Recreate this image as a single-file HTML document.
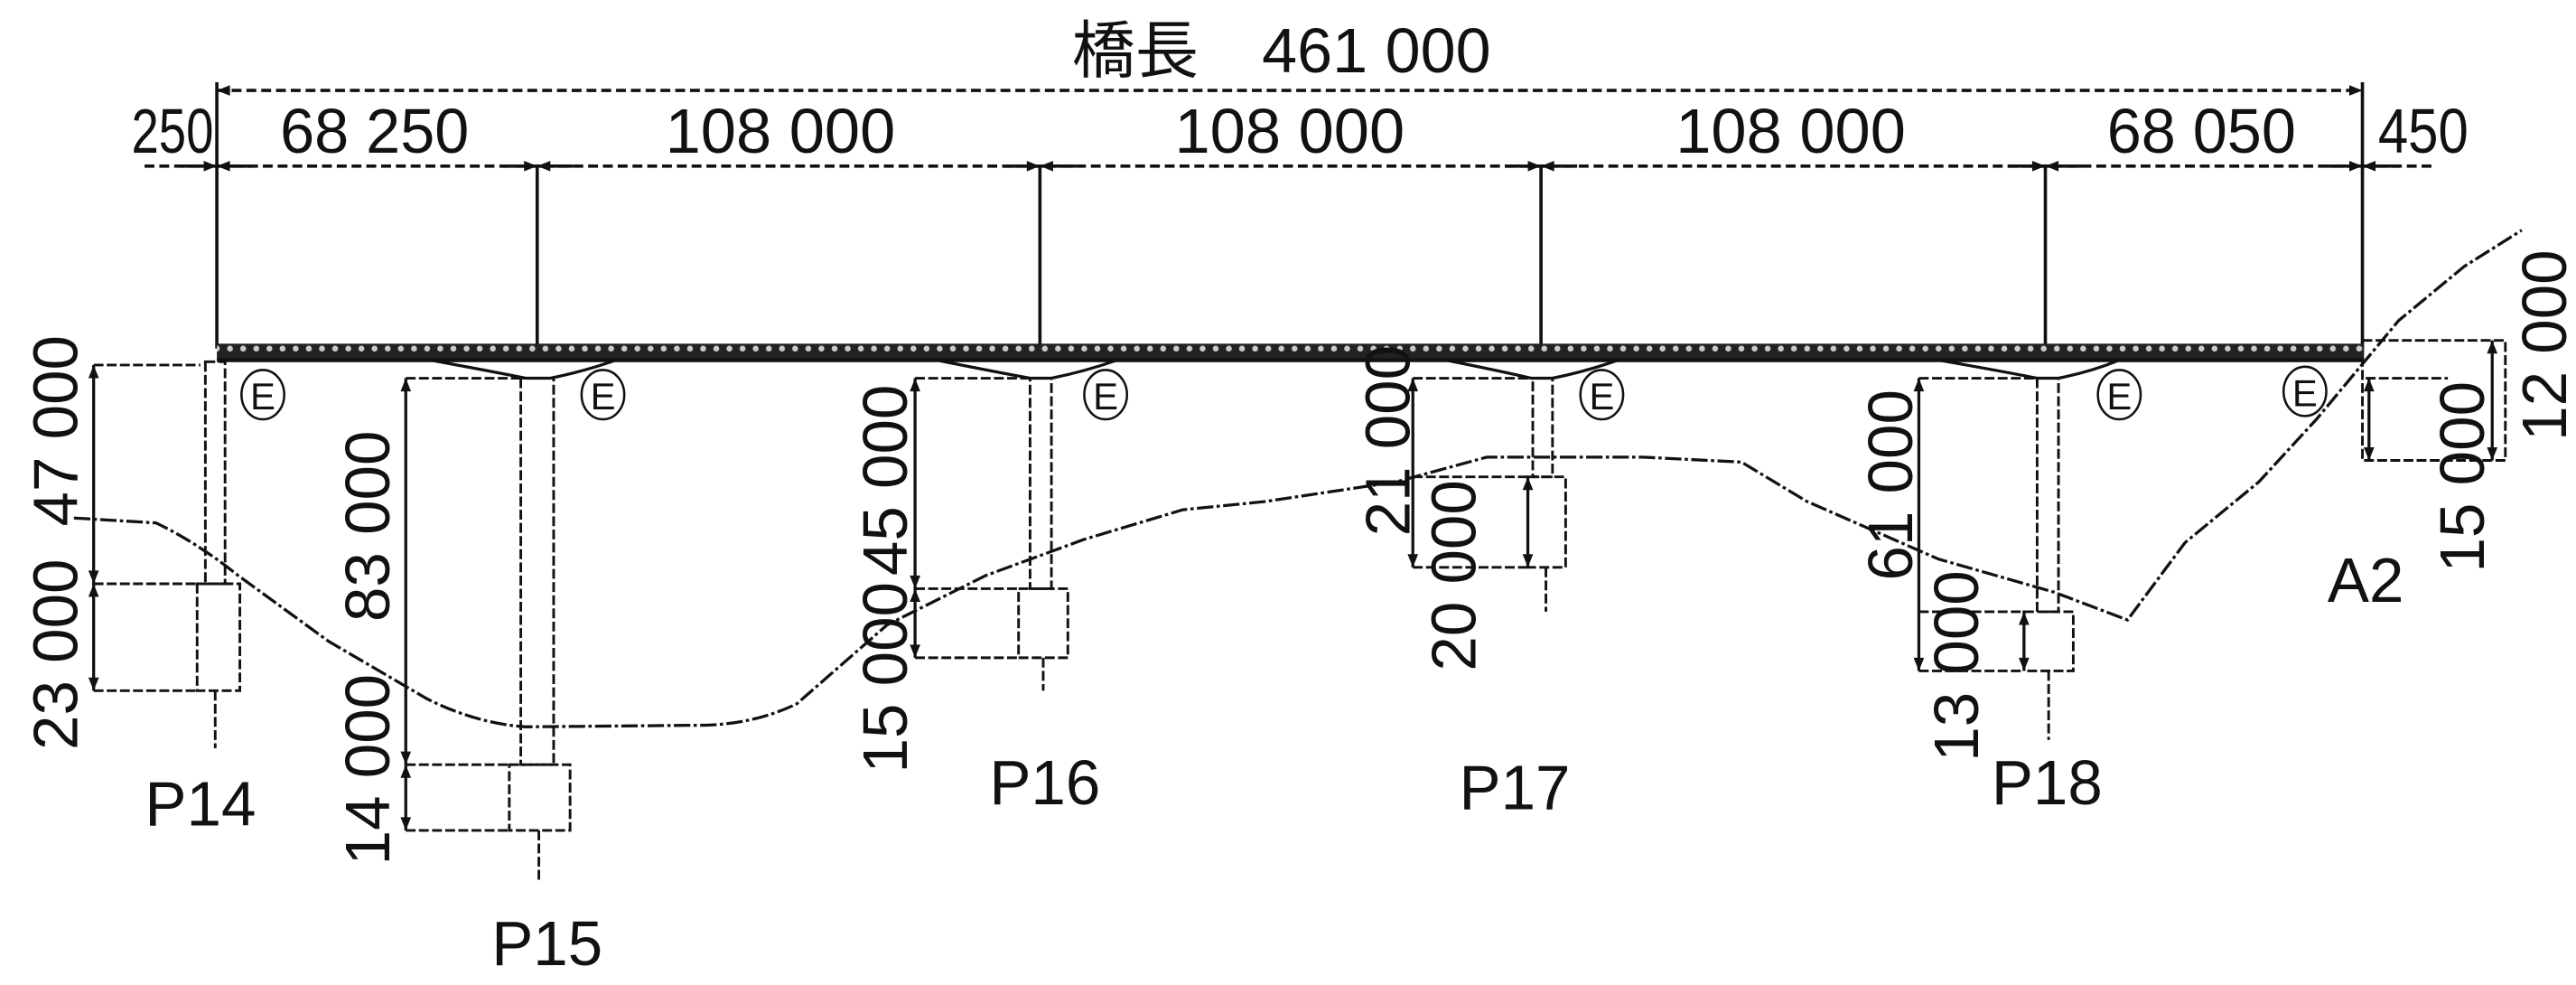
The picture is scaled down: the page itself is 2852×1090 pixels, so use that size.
<!DOCTYPE html>
<html><head><meta charset="utf-8"><style>
html,body{margin:0;padding:0;background:#fff;}
svg{display:block;}
text{font-family:"Liberation Sans","Noto Sans CJK JP",sans-serif;fill:#111;}
</style></head><body>
<svg width="2852" height="1090" viewBox="0 0 1568 599" preserveAspectRatio="none" xmlns="http://www.w3.org/2000/svg">
<defs>
<marker id="a" viewBox="0 0 10 10" refX="10" refY="5" markerWidth="12" markerHeight="8" orient="auto-start-reverse" markerUnits="userSpaceOnUse"><path d="M0,1 L10,5 L0,9z" fill="#111"/></marker>
<pattern id="dots" width="8" height="8" patternUnits="userSpaceOnUse"><rect width="8" height="8" fill="#222"/><circle cx="4" cy="4" r="1.8" fill="#ccc"/></pattern>
</defs>
<g stroke="#111" stroke-width="2" fill="none">
<line x1="132" y1="55" x2="1438" y2="55" stroke-dasharray="6,3" marker-start="url(#a)" marker-end="url(#a)"/>
<line x1="88" y1="101" x2="1482" y2="101" stroke-dasharray="6,3"/>
<g marker-end="url(#a)">
<line x1="110" y1="101" x2="132" y2="101"/><line x1="154" y1="101" x2="132" y2="101"/>
<line x1="305" y1="101" x2="327" y2="101"/><line x1="349" y1="101" x2="327" y2="101"/>
<line x1="611" y1="101" x2="633" y2="101"/><line x1="655" y1="101" x2="633" y2="101"/>
<line x1="916" y1="101" x2="938" y2="101"/><line x1="960" y1="101" x2="938" y2="101"/>
<line x1="1223" y1="101" x2="1245" y2="101"/><line x1="1267" y1="101" x2="1245" y2="101"/>
<line x1="1416" y1="101" x2="1438" y2="101"/><line x1="1460" y1="101" x2="1438" y2="101"/>
</g>
<line x1="132" y1="50" x2="132" y2="212"/><line x1="1438" y1="50" x2="1438" y2="212"/>
<line x1="327" y1="101" x2="327" y2="212"/><line x1="633" y1="101" x2="633" y2="212"/>
<line x1="938" y1="101" x2="938" y2="212"/><line x1="1245" y1="101" x2="1245" y2="212"/>
</g>
<rect x="132" y="209" width="1307" height="10" fill="url(#dots)"/>
<line x1="132" y1="219" x2="1439" y2="219" stroke="#111" stroke-width="2.5"/>
<g stroke="#111" stroke-width="1.8" fill="none">
<path d="M262,219 Q300,226 320,230 L335,230 Q355,226 375,219"/>
<path d="M570,219 Q605,226 627,230 L640,230 Q660,226 680,219"/>
<path d="M880,219 Q915,226 932,230 L945,230 Q965,226 985,219"/>
<path d="M1180,219 Q1220,226 1240,230 L1253,230 Q1273,226 1290,219"/>
</g>
<g stroke="#111" stroke-width="1.4" fill="#fff">
<ellipse cx="160" cy="240" rx="13" ry="15"/><ellipse cx="367" cy="240" rx="13" ry="15"/>
<ellipse cx="673" cy="240" rx="13" ry="15"/><ellipse cx="975" cy="240" rx="13" ry="15"/>
<ellipse cx="1290" cy="240" rx="13" ry="15"/><ellipse cx="1403" cy="238" rx="13" ry="15"/>
</g>
<g font-size="23" text-anchor="middle">
<text x="160" y="249">E</text><text x="367" y="249">E</text><text x="673" y="249">E</text>
<text x="975" y="249">E</text><text x="1290" y="249">E</text><text x="1403" y="247">E</text>
</g>
<g stroke="#111" stroke-width="1.6" fill="none" stroke-dasharray="6,2">
<rect x="125" y="220" width="12" height="135"/><rect x="120" y="355" width="26" height="65"/>
<line x1="57" y1="222" x2="122" y2="222"/><line x1="57" y1="355" x2="120" y2="355"/><line x1="57" y1="420" x2="120" y2="420"/>
<rect x="317" y="230" width="20" height="235"/><rect x="310" y="465" width="37" height="40"/>
<line x1="247" y1="230" x2="317" y2="230"/><line x1="247" y1="465" x2="310" y2="465"/><line x1="247" y1="505" x2="310" y2="505"/>
<rect x="627" y="230" width="13" height="128"/><rect x="620" y="358" width="30" height="42"/>
<line x1="557" y1="230" x2="627" y2="230"/><line x1="557" y1="358" x2="620" y2="358"/><line x1="557" y1="400" x2="620" y2="400"/>
<rect x="933" y="230" width="12" height="60"/><rect x="930" y="290" width="23" height="55"/>
<line x1="860" y1="230" x2="933" y2="230"/><line x1="860" y1="290" x2="930" y2="290"/><line x1="860" y1="345" x2="930" y2="345"/>
<rect x="1240" y="230" width="13" height="142"/><rect x="1232" y="372" width="30" height="36"/>
<line x1="1168" y1="230" x2="1240" y2="230"/><line x1="1168" y1="372" x2="1232" y2="372"/><line x1="1168" y1="408" x2="1232" y2="408"/>
<path d="M1438,207 L1525,207 L1525,280 L1438,280 L1438,219"/>
<line x1="1440" y1="230" x2="1490" y2="230"/>
<line x1="131" y1="420" x2="131" y2="455"/><line x1="328" y1="505" x2="328" y2="535"/>
<line x1="635" y1="400" x2="635" y2="420"/><line x1="941" y1="345" x2="941" y2="372"/>
<line x1="1247" y1="408" x2="1247" y2="450"/>
</g>
<g stroke="#111" stroke-width="1.8" marker-start="url(#a)" marker-end="url(#a)">
<line x1="57" y1="222" x2="57" y2="355"/><line x1="57" y1="355" x2="57" y2="420"/>
<line x1="247" y1="230" x2="247" y2="465"/><line x1="247" y1="465" x2="247" y2="505"/>
<line x1="557" y1="230" x2="557" y2="358"/><line x1="557" y1="358" x2="557" y2="400"/>
<line x1="860" y1="230" x2="860" y2="345"/><line x1="930" y1="290" x2="930" y2="345"/>
<line x1="1168" y1="230" x2="1168" y2="408"/><line x1="1232" y1="372" x2="1232" y2="408"/>
<line x1="1517" y1="207" x2="1517" y2="280"/><line x1="1442" y1="230" x2="1442" y2="280"/>
</g>
<path d="M45,315 L95,318 Q120,330 145,350 L200,390 L260,425 Q290,440 320,442 L430,441 Q460,440 485,428 L540,380 L600,350 L660,328 L720,310 L770,305 L850,293 L905,278 L1000,278 L1060,281 L1100,305 L1180,340 L1250,360 L1295,377 L1330,330 L1375,293 L1410,255 L1460,195 L1500,162 L1535,140" stroke="#111" stroke-width="1.8" fill="none" stroke-dasharray="10,2,2,2"/>
<g font-size="38" text-anchor="middle">
<text x="780" y="44" textLength="255" lengthAdjust="spacingAndGlyphs">橋長　461 000</text>
<text x="105" y="93" textLength="50" lengthAdjust="spacingAndGlyphs">250</text>
<text x="228" y="93" textLength="115" lengthAdjust="spacingAndGlyphs">68 250</text>
<text x="475" y="93" textLength="140" lengthAdjust="spacingAndGlyphs">108 000</text>
<text x="785" y="93" textLength="140" lengthAdjust="spacingAndGlyphs">108 000</text>
<text x="1090" y="93" textLength="140" lengthAdjust="spacingAndGlyphs">108 000</text>
<text x="1340" y="93" textLength="115" lengthAdjust="spacingAndGlyphs">68 050</text>
<text x="1475" y="93" textLength="55" lengthAdjust="spacingAndGlyphs">450</text>
<text x="122" y="502">P14</text>
<text x="333" y="587">P15</text>
<text x="636" y="489">P16</text>
<text x="922" y="492">P17</text>
<text x="1246" y="489">P18</text>
<text x="1440" y="366">A2</text>
</g>
<g font-size="38" text-anchor="middle">
<text transform="translate(47,262) rotate(-90)">47 000</text>
<text transform="translate(47,398) rotate(-90)">23 000</text>
<text transform="translate(237,320) rotate(-90)">83 000</text>
<text transform="translate(237,468) rotate(-90)">14 000</text>
<text transform="translate(552,292) rotate(-90)">45 000</text>
<text transform="translate(552,412) rotate(-90)">15 000</text>
<text transform="translate(858,268) rotate(-90)">21 000</text>
<text transform="translate(898,350) rotate(-90)">20 000</text>
<text transform="translate(1164,295) rotate(-90)">61 000</text>
<text transform="translate(1204,405) rotate(-90)">13 000</text>
<text transform="translate(1562,210) rotate(-90)">12 000</text>
<text transform="translate(1512,290) rotate(-90)">15 000</text>
</g>
</svg>
</body></html>
